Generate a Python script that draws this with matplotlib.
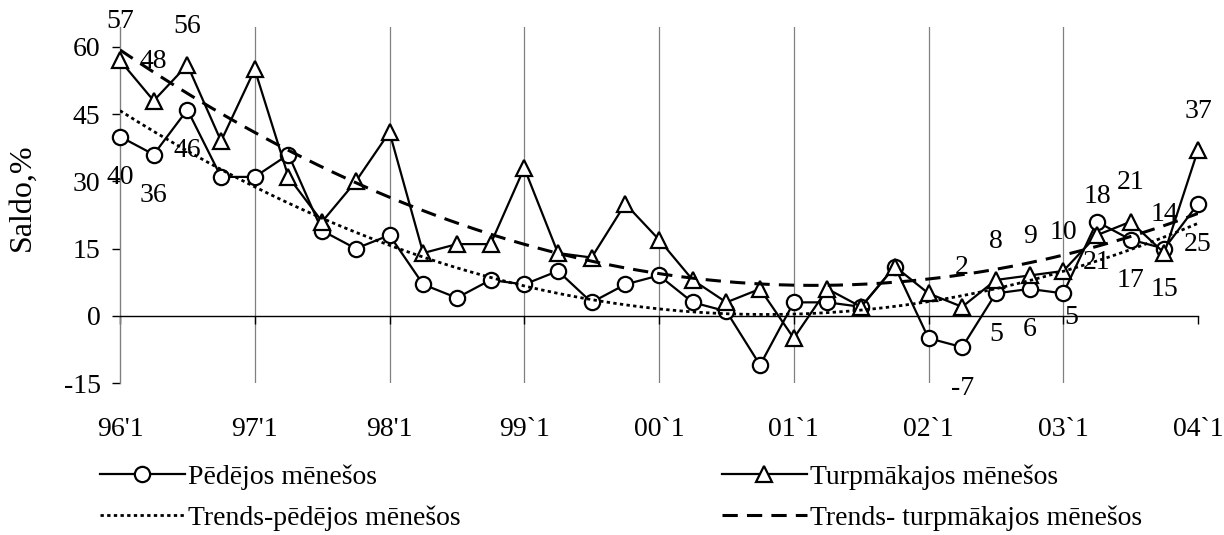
import numpy as np
import matplotlib
matplotlib.use("Agg")
import matplotlib.pyplot as plt

plt.rcParams['font.family'] = ['Liberation Serif', 'DejaVu Serif']

# ---- data ----
year_labels = ["96'1", "97'1", "98'1", "99`1", "00`1", "01`1", "02`1", "03`1", "04`1"]
quarters_per_year = 4
pedejos = [40, 36, 46, 31, 31, 36, 19, 15, 18, 7, 4, 8, 7, 10, 3, 7, 9, 3, 1, -11,
           3, 3, 2, 11, -5, -7, 5, 6, 5, 21, 17, 15, 25]
turpmakajos = [57, 48, 56, 39, 55, 31, 21, 30, 41, 14, 16, 16, 33, 14, 13, 25, 17, 8, 3, 6,
               -5, 6, 2, 11, 5, 2, 8, 9, 10, 18, 21, 14, 37]
labeled_idx = [0, 1, 2, 25, 26, 27, 28, 29, 30, 31, 32]
yticks = [-15, 0, 15, 30, 45, 60]
series_names = ["Pēdējos mēnešos", "Turpmākajos mēnešos",
                "Trends-pēdējos mēnešos", "Trends- turpmākajos mēnešos"]
ylabel = "Saldo,%"

FS = 20
W, H = 1224, 535
fig = plt.figure(figsize=(W / 100, H / 100), dpi=100)
ax = fig.add_axes([120 / W, 1 - 383 / H, (1198 - 120) / W, (383 - 27) / H])

x = np.arange(len(pedejos))
n_last = len(pedejos) - 1
ax.set_xlim(0, n_last)
ax.set_ylim(-15, 64.46)

# year gridlines (inner years only)
year_pos = np.arange(0, n_last + 1, quarters_per_year)
for xp in year_pos[1:-1]:
    ax.axvline(xp, color='#808080', lw=0.9, zorder=1)

# series
l1, = ax.plot(x, pedejos, color='black', lw=1.6, marker='o', ms=11,
              mfc='white', mec='black', mew=1.6, clip_on=False, zorder=3)
l2, = ax.plot(x, turpmakajos, color='black', lw=1.6, marker='^', ms=12,
              mfc='white', mec='black', mew=1.6, clip_on=False, zorder=3)

# polynomial trend lines (order 2, as in the spreadsheet)
xf = np.linspace(0, n_last, 300)
p1 = np.polyfit(x, pedejos, 2)
p2 = np.polyfit(x, turpmakajos, 2)
t1, = ax.plot(xf, np.polyval(p1, xf), color='black', lw=2.0,
              linestyle=(0, (1.2, 1.2)), zorder=4)
t2, = ax.plot(xf, np.polyval(p2, xf), color='black', lw=2.2,
              linestyle=(0, (5, 3)), zorder=4)

# data labels
special_circle = {28: (6, -17)}
for i in labeled_idx:
    ax.annotate(str(turpmakajos[i]), (x[i], turpmakajos[i]), xytext=(0, 28),
                textcoords='offset points', ha='center', va='center', fontsize=FS,
                zorder=5, annotation_clip=False)
    dx, dy = special_circle.get(i, (0, -29.5))
    ax.annotate(str(pedejos[i]), (x[i], pedejos[i]), xytext=(dx, dy),
                textcoords='offset points', ha='center', va='center', fontsize=FS,
                zorder=5, annotation_clip=False)

# axes styling
for s in ['top', 'right']:
    ax.spines[s].set_visible(False)
ax.spines['bottom'].set_position(('data', 0))
ax.spines['bottom'].set_linewidth(1.0)
ax.spines['left'].set_linewidth(1.0)
ax.spines['left'].set_color('#808080')
ax.set_yticks(yticks)
ax.set_yticklabels([str(v) for v in yticks], fontsize=FS)
ax.tick_params(axis='y', direction='out', length=6, width=1.0, pad=8)
ax.set_xticks(year_pos)
ax.set_xticklabels(year_labels, fontsize=FS)
ax.tick_params(axis='x', direction='out', length=6, width=1.0, pad=67)
ax.set_ylabel(ylabel, fontsize=23, va='center')
ax.yaxis.set_label_coords(-0.091, 0.522)

# legends
common = dict(frameon=False, fontsize=FS, handlelength=3.05, handletextpad=0.12,
              labelspacing=0.58, borderpad=0, borderaxespad=0, loc='upper left')
leg1 = fig.legend([l1, t1], [series_names[0], series_names[2]],
                  bbox_to_anchor=(100 / W, 1 - 464 / H), **common)
leg2 = fig.legend([l2, t2], [series_names[1], series_names[3]],
                  bbox_to_anchor=(722 / W, 1 - 464 / H), **common)

fig.savefig("out.png", dpi=100)
